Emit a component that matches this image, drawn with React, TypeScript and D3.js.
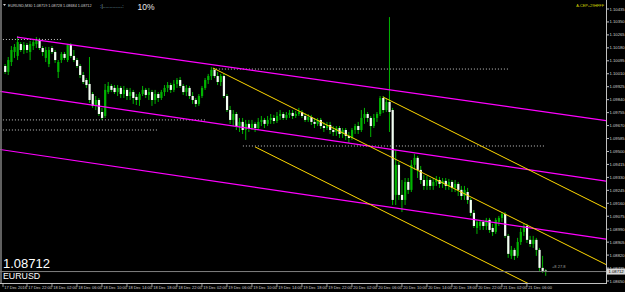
import React from "react";
import * as d3 from "d3";

// ---------- DATA (EURUSD, M30) ----------
const opens = [
  1.10061, 1.10022, 1.10087, 1.10153, 1.10127, 1.10205, 1.10166, 1.10199, 1.10153, 1.10192,
  1.10205, 1.10232, 1.10179, 1.10114, 1.10074, 1.10179, 1.10153, 1.10022, 1.101, 1.1014,
  1.101, 1.10199, 1.10127, 1.101, 1.10061, 1.10002, 1.09969, 1.09943, 1.09877, 1.09799,
  1.09838, 1.09759, 1.09733, 1.0989, 1.0993, 1.09917, 1.0989, 1.09917, 1.09877, 1.09904,
  1.09864, 1.0989, 1.09858, 1.09838, 1.09877, 1.09904, 1.09871, 1.0989, 1.09838, 1.09877,
  1.09851, 1.0989, 1.09917, 1.09936, 1.09904, 1.09943, 1.09969, 1.0993, 1.0989, 1.09917,
  1.09864, 1.09838, 1.09812, 1.09864, 1.09917, 1.09969, 1.09995, 1.10035, 1.09995, 1.09956,
  1.09995, 1.09864, 1.09772, 1.09707, 1.09746, 1.09667, 1.09694, 1.09641, 1.09681, 1.09654,
  1.09681, 1.09654, 1.09694, 1.09707, 1.09681, 1.09707, 1.0972, 1.097, 1.09733, 1.09746,
  1.0972, 1.0974, 1.09753, 1.09733, 1.09746, 1.09759, 1.09733, 1.09707, 1.09726, 1.09694,
  1.09681, 1.09707, 1.09667, 1.09654, 1.09674, 1.09641, 1.09628, 1.09654, 1.09615, 1.09641,
  1.09602, 1.09589, 1.09641, 1.09667, 1.09641, 1.0972, 1.09746, 1.0972, 1.09667, 1.0972,
  1.09746, 1.09851, 1.09772, 1.09825, 1.09772, 1.09215, 1.09412, 1.09215, 1.09182, 1.093,
  1.09248, 1.09412, 1.09458, 1.09379, 1.09313, 1.09274, 1.09313, 1.09274, 1.093, 1.09313,
  1.09287, 1.09307, 1.09274, 1.093, 1.09261, 1.09287, 1.09248, 1.09208, 1.09234, 1.09182,
  1.09097, 1.08998, 1.09011, 1.09038, 1.09011, 1.09051, 1.08998, 1.08972, 1.09038, 1.09064,
  1.0909, 1.08946, 1.08815, 1.08854, 1.08815, 1.08906, 1.08972, 1.09011, 1.0892, 1.08893,
  1.0892, 1.08854, 1.08736, 1.08719,
];
const highs = [
  1.10074, 1.1012, 1.10192, 1.10205, 1.10258, 1.10218, 1.10218, 1.10212, 1.10225, 1.10232,
  1.10251, 1.10245, 1.10192, 1.10186, 1.10186, 1.10192, 1.10166, 1.101, 1.10153, 1.10153,
  1.10205, 1.10212, 1.10166, 1.10114, 1.10074, 1.10022, 1.09982, 1.1012, 1.0989, 1.09864,
  1.09851, 1.09786, 1.09943, 1.09956, 1.09943, 1.09936, 1.09936, 1.0993, 1.0993, 1.09917,
  1.09917, 1.09904, 1.09877, 1.0989, 1.0993, 1.09917, 1.09917, 1.09904, 1.09904, 1.0989,
  1.09904, 1.09936, 1.09956, 1.0995, 1.09969, 1.09982, 1.09989, 1.09943, 1.09936, 1.0993,
  1.0989, 1.09851, 1.09877, 1.0993, 1.09982, 1.10009, 1.10054, 1.10048, 1.10022, 1.10009,
  1.10009, 1.09877, 1.09799, 1.09772, 1.09759, 1.0972, 1.0972, 1.09707, 1.09707, 1.09707,
  1.09694, 1.0972, 1.09733, 1.0972, 1.09733, 1.09746, 1.0974, 1.09759, 1.09772, 1.09759,
  1.09759, 1.09772, 1.09772, 1.09766, 1.09786, 1.09772, 1.09753, 1.09746, 1.0974, 1.0972,
  1.0972, 1.0972, 1.09694, 1.09694, 1.09694, 1.09667, 1.09667, 1.09667, 1.09654, 1.09654,
  1.09628, 1.09654, 1.09681, 1.09694, 1.09772, 1.09786, 1.09759, 1.09733, 1.09746, 1.09759,
  1.09864, 1.09864, 1.09851, 1.10382, 1.09786, 1.0951, 1.09431, 1.09313, 1.09326, 1.09326,
  1.09444, 1.09484, 1.09471, 1.09405, 1.09346, 1.09339, 1.09326, 1.09326, 1.09339, 1.09333,
  1.09326, 1.09326, 1.0932, 1.09313, 1.09313, 1.093, 1.09274, 1.09274, 1.09261, 1.09195,
  1.09116, 1.09051, 1.09051, 1.09051, 1.09064, 1.09064, 1.09025, 1.09064, 1.09077, 1.09103,
  1.09103, 1.08959, 1.0888, 1.08867, 1.08933, 1.08998, 1.09025, 1.09025, 1.08946, 1.08946,
  1.08933, 1.08867, 1.08815, 1.08728,
];
const lows = [
  1.10009, 1.10002, 1.10061, 1.10114, 1.101, 1.10153, 1.1014, 1.10146, 1.101, 1.10166,
  1.10179, 1.10166, 1.10127, 1.10087, 1.10054, 1.1014, 1.10081, 1.09982, 1.10081, 1.101,
  1.10087, 1.10114, 1.10087, 1.10048, 1.09982, 1.09943, 1.09917, 1.09818, 1.09786, 1.09772,
  1.09733, 1.09707, 1.0972, 1.09877, 1.0989, 1.09877, 1.09864, 1.09851, 1.09851, 1.09838,
  1.09838, 1.09812, 1.09805, 1.09799, 1.09864, 1.09851, 1.09838, 1.09799, 1.09812, 1.09825,
  1.09838, 1.09864, 1.0989, 1.09884, 1.0989, 1.09917, 1.09917, 1.09871, 1.09864, 1.09845,
  1.09812, 1.09792, 1.09799, 1.09851, 1.09904, 1.09943, 1.09969, 1.09982, 1.09936, 1.0993,
  1.09851, 1.09759, 1.09681, 1.09667, 1.09641, 1.09628, 1.09615, 1.09576, 1.09628, 1.09641,
  1.09628, 1.09641, 1.09667, 1.09654, 1.09667, 1.09681, 1.09681, 1.09687, 1.09707, 1.09707,
  1.09707, 1.0972, 1.09713, 1.0972, 1.09733, 1.0972, 1.09694, 1.09694, 1.09674, 1.09654,
  1.09667, 1.09648, 1.09628, 1.09641, 1.09615, 1.09602, 1.09602, 1.09589, 1.09589, 1.09576,
  1.09556, 1.09576, 1.09615, 1.09615, 1.09628, 1.09681, 1.09694, 1.09595, 1.09654, 1.09694,
  1.09733, 1.09753, 1.09759, 1.09628, 1.09149, 1.09149, 1.09182, 1.09103, 1.09149, 1.09221,
  1.09234, 1.09379, 1.09326, 1.09287, 1.09248, 1.09248, 1.09248, 1.09248, 1.09274, 1.09261,
  1.09261, 1.09248, 1.09248, 1.09234, 1.09234, 1.09208, 1.09182, 1.09182, 1.09156, 1.09077,
  1.08998, 1.08959, 1.08985, 1.08985, 1.08985, 1.08966, 1.08946, 1.08959, 1.09011, 1.09038,
  1.08933, 1.08802, 1.08795, 1.08788, 1.08802, 1.08887, 1.08946, 1.089, 1.08874, 1.08867,
  1.08815, 1.0871, 1.08703, 1.08684,
];
const closes = [
  1.10022, 1.101, 1.10166, 1.10186, 1.10218, 1.10166, 1.10199, 1.10166, 1.10205, 1.10218,
  1.10232, 1.10179, 1.10153, 1.10166, 1.10166, 1.10153, 1.101, 1.10087, 1.1014, 1.10114,
  1.10199, 1.10127, 1.101, 1.10061, 1.10002, 1.09956, 1.09936, 1.09838, 1.09799, 1.09838,
  1.09746, 1.0972, 1.09904, 1.0993, 1.09904, 1.0989, 1.09917, 1.09877, 1.09904, 1.09864,
  1.0989, 1.09851, 1.09838, 1.09877, 1.09904, 1.09871, 1.0989, 1.09838, 1.09877, 1.09851,
  1.0989, 1.09917, 1.09936, 1.09904, 1.09943, 1.09969, 1.0993, 1.0989, 1.09917, 1.09864,
  1.09838, 1.09812, 1.09864, 1.09917, 1.09969, 1.09995, 1.10035, 1.09995, 1.09956, 1.09995,
  1.09864, 1.09772, 1.09707, 1.09746, 1.09667, 1.09694, 1.09641, 1.09681, 1.09654, 1.09681,
  1.09654, 1.09694, 1.09707, 1.09681, 1.09707, 1.0972, 1.097, 1.09733, 1.09746, 1.0972,
  1.0974, 1.09753, 1.09733, 1.09746, 1.09759, 1.09733, 1.09707, 1.09726, 1.09694, 1.09681,
  1.09707, 1.09667, 1.09654, 1.09674, 1.09641, 1.09628, 1.09654, 1.09615, 1.09641, 1.09602,
  1.09589, 1.09641, 1.09667, 1.09641, 1.0972, 1.09746, 1.0972, 1.09667, 1.0972, 1.09746,
  1.09851, 1.09772, 1.09825, 1.09759, 1.09182, 1.09412, 1.09215, 1.09182, 1.093, 1.09248,
  1.09412, 1.09458, 1.09379, 1.09313, 1.09274, 1.09313, 1.09274, 1.093, 1.09313, 1.09287,
  1.09307, 1.09274, 1.093, 1.09261, 1.09287, 1.09248, 1.09208, 1.09248, 1.09182, 1.09097,
  1.09011, 1.09038, 1.09038, 1.09011, 1.09051, 1.08985, 1.08972, 1.09051, 1.09064, 1.0909,
  1.08946, 1.08828, 1.08854, 1.08815, 1.08906, 1.08972, 1.09011, 1.0892, 1.08893, 1.0892,
  1.08854, 1.08736, 1.08716, 1.08712,
];

const priceTicks = [
  1.0865, 1.08735, 1.0882, 1.08905, 1.0899, 1.09075, 1.0916, 1.09245, 1.0933, 1.09415, 1.095,
  1.09585, 1.0967, 1.09755, 1.0984, 1.09925, 1.1001, 1.10095, 1.1018, 1.10265, 1.1035, 1.10435,
];
const timeLabels = [
  "17 Dec 2016", "17 Dec 22:00", "18 Dec 02:00", "18 Dec 06:00", "18 Dec 10:00", "18 Dec 14:00",
  "18 Dec 18:00", "18 Dec 22:00", "19 Dec 02:00", "19 Dec 06:00", "19 Dec 10:00", "19 Dec 14:00",
  "19 Dec 18:00", "19 Dec 22:00", "20 Dec 02:00", "20 Dec 06:00", "20 Dec 10:00", "20 Dec 14:00",
  "20 Dec 18:00", "20 Dec 22:00", "21 Dec 02:00", "21 Dec 06:00",
];
const timeLabelBars = [0, 7, 15, 23, 31, 39, 47, 55, 63, 71, 79, 87, 95, 103, 111, 119, 127, 135, 143, 151, 159, 167];

// trend lines: [bar1, price1, bar2, price2, extendLeft]
const magentaLines: [number, number, number, number, boolean][] = [
  [3.8, 1.10251, 173, 1.09759, false],
  [0, 1.09889, 173, 1.09364, true],
  [0, 1.09508, 173, 1.08983, true],
];
const yellowLines: [number, number, number, number, boolean][] = [
  [66.5, 1.10048, 173, 1.08956, false],
  [120.9, 1.09858, 173, 1.09324, false],
  [80, 1.0953, 173, 1.08576, false],
];
// dotted horizontal levels: [barStart, barEnd, price]
const dottedLevels: [number, number, number][] = [
  [-0.7, 18.5, 1.10235],
  [66.5, 161, 1.10041],
  [-0.7, 64, 1.09707],
  [-0.7, 49, 1.09641],
  [76.1, 173, 1.09536],
];

const symbol = "EURUSD";
const header = "EURUSD,M30  1.08719 1.08728 1.08684 1.08712";
const bidPrice = 1.08712;

export default function App() {
  const W = 625;
  const H = 292;
  const plotRight = 606;
  const plotBottom = 283;
  const x = d3.scaleLinear().domain([0, 173]).range([5.1, 545.7]);
  const y = d3.scaleLinear().domain([1.0865, 1.10435]).range([281, 9]);
  const green = "#00b400";
  const font = "'Liberation Sans', Arial, sans-serif";

  const trend = (l: [number, number, number, number, boolean], color: string, w: number, k: string) => {
    const [b1, p1, b2, p2, extL] = l;
    const slope = (p2 - p1) / (b2 - b1);
    const bS = extL ? x.invert(0) : b1;
    const bE = x.invert(plotRight);
    return (
      <line
        key={k}
        x1={x(bS)}
        y1={y(p1 + slope * (bS - b1))}
        x2={x(bE)}
        y2={y(p1 + slope * (bE - b1))}
        stroke={color}
        strokeWidth={w}
      />
    );
  };

  const bidY = y(bidPrice);

  return (
    <div style={{ position: "absolute", left: 0, top: 0, width: W, height: H, background: "#000" }}>
      <svg width={W} height={H} style={{ display: "block" }}>
        <defs>
          <clipPath id="plot">
            <rect x={0} y={0} width={plotRight} height={plotBottom} />
          </clipPath>
        </defs>
        <rect x={0} y={0} width={W} height={H} fill="#000" />
        <g clipPath="url(#plot)">
          {closes.map((c, i) => {
            const o = opens[i];
            const cx = x(i);
            const bull = c >= o;
            const top = y(Math.max(o, c));
            const bot = y(Math.min(o, c));
            return (
              <g key={i}>
                <rect x={cx - 0.5} y={y(highs[i])} width={1} height={Math.max(1, y(lows[i]) - y(highs[i]))} fill={green} />
                <rect
                  x={cx - 1}
                  y={top}
                  width={2.2}
                  height={Math.max(1, bot - top)}
                  fill={bull ? green : "#f4fff4"}
                />
              </g>
            );
          })}
          {dottedLevels.map(([b1, b2, p], i) => (
            <line key={"d" + i} x1={Math.max(0, x(b1))} x2={x(b2)} y1={y(p)} y2={y(p)} stroke="#c8c8c8" strokeWidth={1} strokeDasharray="1 2" />
          ))}
          {magentaLines.map((l, i) => trend(l, "#ff00ff", 1.2, "m" + i))}
          {yellowLines.map((l, i) => trend(l, "#ffd800", 1, "yl" + i))}
          <line x1={0} x2={plotRight} y1={bidY} y2={bidY} stroke="#808080" strokeWidth={1} />
        </g>

        {/* frame */}
        <line x1={1} x2={1} y1={0} y2={plotBottom} stroke="#808080" strokeWidth={1.5} />
        <line x1={plotRight + 0.5} x2={plotRight + 0.5} y1={0} y2={plotBottom + 0.5} stroke="#c0c0c0" strokeWidth={1} />
        <line x1={0} x2={plotRight + 1} y1={plotBottom + 0.5} y2={plotBottom + 0.5} stroke="#c0c0c0" strokeWidth={1} />

        {/* price axis */}
        {priceTicks.map((p, i) => (
          <g key={"pt" + i}>
            <line x1={plotRight + 1} x2={plotRight + 3} y1={y(p)} y2={y(p)} stroke="#c0c0c0" strokeWidth={1} />
            <text x={609.5} y={y(p) + 1.5} fontSize={4.2} fill="#d0d0d0" fontFamily={font}>
              {d3.format(".5f")(p)}
            </text>
          </g>
        ))}
        <rect x={607} y={bidY - 3} width={18} height={6} fill="#d8d8d8" />
        <text x={608.5} y={bidY + 1.6} fontSize={4.2} fill="#000" fontFamily={font}>
          {d3.format(".5f")(bidPrice)}
        </text>

        {/* time axis */}
        {timeLabels.map((t, i) => {
          const tx = i === 0 ? 3 : x(timeLabelBars[i]);
          return (
            <g key={"tl" + i}>
              <line x1={tx} x2={tx} y1={plotBottom + 1} y2={plotBottom + 4} stroke="#c0c0c0" strokeWidth={0.8} />
              <text x={tx + 1.2} y={289} fontSize={4} fill="#d0d0d0" fontFamily={font}>
                {t}
              </text>
            </g>
          );
        })}

        {/* texts */}
        <path d="M3,4 L6,4 L4.5,6 Z" fill="#d0d0d0" />
        <text x={8} y={6.5} fontSize={3.8} fill="#d0d0d0" fontFamily={font}>
          {header}
        </text>
        <text x={100} y={8} fontSize={5} fill="#9cc8d8" fontFamily={font}>
          {":|..............:"}
        </text>
        <text x={137.5} y={9.5} fontSize={8.5} fill="#e8e8e8" fontFamily={font}>
          10%
        </text>
        <text x={604} y={7} fontSize={3.8} fill="#d8d800" fontFamily={font} textAnchor="end">
          A-CEP+29HFFF
        </text>
        <text x={3} y={267.5} fontSize={13} fill="#ffffff" fontFamily={font}>
          {d3.format(".5f")(bidPrice)}
        </text>
        <text x={3} y={279} fontSize={8.8} fill="#ffffff" fontFamily={font}>
          {symbol}
        </text>
        <text x={552} y={268} fontSize={4} fill="#a0a0a0" fontFamily={font}>
          +8 27.8
        </text>
      </svg>
    </div>
  );
}
